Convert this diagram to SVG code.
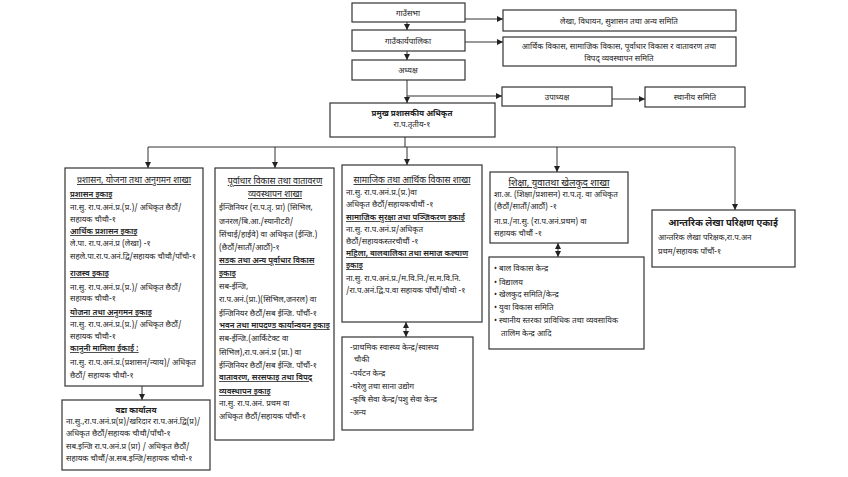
<svg xmlns="http://www.w3.org/2000/svg" width="848" height="477" viewBox="0 0 848 477">
<style>
text{font-family:"Noto Sans Devanagari","Noto Sans","Liberation Sans",sans-serif;font-size:8px;fill:#222}
.c{text-anchor:middle}
.u{text-decoration:underline;font-weight:600}
.h{font-size:8.8px;text-decoration:underline}
.b{font-size:9.5px;font-weight:bold}
rect{fill:#fff;stroke:#333;stroke-width:1.2}
.ln{stroke:#333;stroke-width:1;fill:none}
</style>
<defs>
<marker id="a" viewBox="0 0 10 10" refX="10" refY="5" markerWidth="6" markerHeight="6" orient="auto"><path d="M0,0L10,5L0,10z" fill="#222"/></marker>
<marker id="s" viewBox="0 0 10 10" refX="0" refY="5" markerWidth="6" markerHeight="6" orient="auto"><path d="M10,0L0,5L10,10z" fill="#222"/></marker>
</defs>
<rect x="0" y="0" width="848" height="477" style="fill:#fff;stroke:none"/>
<g id="connectors">
<line class="ln" x1="407" y1="22" x2="407" y2="30" marker-end="url(#a)"/>
<line class="ln" x1="407" y1="51" x2="407" y2="60" marker-end="url(#a)"/>
<line class="ln" x1="465" y1="19" x2="503" y2="19" marker-end="url(#a)"/>
<line class="ln" x1="465" y1="42" x2="503" y2="42" marker-end="url(#a)"/>
<line class="ln" x1="407" y1="80" x2="407" y2="103" marker-end="url(#a)"/>
<line class="ln" x1="407" y1="96" x2="502" y2="96" marker-end="url(#a)"/>
<line class="ln" x1="612" y1="99" x2="645" y2="99" marker-end="url(#a)"/>
<line class="ln" x1="405" y1="137" x2="405" y2="147"/>
<line class="ln" x1="148" y1="147" x2="735" y2="147"/>
<line class="ln" x1="148" y1="147" x2="148" y2="168" marker-end="url(#a)"/>
<line class="ln" x1="275" y1="147" x2="275" y2="168" marker-end="url(#a)"/>
<line class="ln" x1="407" y1="147" x2="407" y2="165" marker-end="url(#a)"/>
<line class="ln" x1="557" y1="147" x2="557" y2="172" marker-end="url(#a)"/>
<line class="ln" x1="735" y1="147" x2="735" y2="210" marker-end="url(#a)"/>
<line class="ln" x1="142" y1="386" x2="142" y2="400" marker-end="url(#a)"/>
<line class="ln" x1="406" y1="322" x2="406" y2="337" marker-start="url(#s)" marker-end="url(#a)"/>
<line class="ln" x1="558" y1="243" x2="558" y2="257" marker-start="url(#s)" marker-end="url(#a)"/>
</g>
<g id="gaunsabha"><rect x="352" y="3" width="113" height="19"/><text class="c" x="408" y="16">गाउँसभा</text></g>
<g id="karyapalika"><rect x="352" y="30" width="113" height="21"/><text class="c" x="408" y="44">गाउँकार्यपालिका</text></g>
<g id="adhyaksha"><rect x="352" y="60" width="113" height="20"/><text class="c" x="408" y="73">अध्यक्ष</text></g>
<g id="samiti1"><rect x="503" y="10" width="233" height="21"/><text class="c" x="619" y="24">लेखा, विधायन, सुशासन तथा अन्य समिति</text></g>
<g id="samiti2"><rect x="503" y="37" width="233" height="29"/><text class="c" x="619" y="49">आर्थिक विकास, सामाजिक विकास, पूर्वाधार विकास र वातावरण तथा</text><text class="c" x="619" y="61">विपद् व्यवस्थापन समिति</text></g>
<g id="upadhyaksha"><rect x="502" y="87" width="110" height="19"/><text class="c" x="557" y="100">उपाध्यक्ष</text></g>
<g id="sthaniya"><rect x="645" y="87" width="100" height="20"/><text class="c" x="695" y="100">स्थानीय समिति</text></g>
<g id="cao"><rect x="330" y="103" width="165" height="34"/><text class="c" x="412" y="116" style="font-weight:bold">प्रमुख प्रशासकीय अधिकृत</text><text class="c" x="412" y="127">रा.प.तृतीय-१</text></g>
<g id="prashasan"><rect x="65" y="168" width="138" height="218"/>
<text class="c h" x="134" y="183">प्रशासन, योजना तथा अनुगमन शाखा</text>
<text class="u" x="70" y="197">प्रशासन इकाइ</text>
<text x="70" y="210">ना.सु. रा.प.अनं.प्र.(प्र.)/ अधिकृत छैठौं/</text>
<text x="70" y="222">सहायक चौथौ-१</text>
<text class="u" x="70" y="234">आर्थिक प्रशासन इकाइ</text>
<text x="70" y="246">ले.पा. रा.प.अनं.प्र (लेखा) -१</text>
<text x="70" y="259">सहले.पा.रा.प.अनं.द्वि/सहायक चौथौ/पाँचौ-१</text>
<text class="u" x="70" y="276">राजस्व इकाइ</text>
<text x="70" y="290">ना.सु. रा.प.अनं.प्र.(प्र.)/ अधिकृत छैठौं/</text>
<text x="70" y="301">सहायक चौथौ-१</text>
<text class="u" x="70" y="315">योजना तथा अनुगमन इकाइ</text>
<text x="70" y="327">ना.सु. रा.प.अनं.प्र.(प्र.)/ अधिकृत छैठौं/</text>
<text x="70" y="339">सहायक चौथौ-१</text>
<text class="u" x="70" y="351">कानुनी मामिला ईकाई :</text>
<text x="70" y="365">ना.सु. रा.प.अनं.प्र.(प्रशासन/न्याय)/ अधिकृत</text>
<text x="70" y="378">छैठौं/ सहायक चौथौ-१</text>
</g>
<g id="wada"><rect x="62" y="400" width="148" height="70"/>
<text class="c" x="136" y="413" style="font-weight:bold">वडा कार्यालय</text>
<text x="66" y="424">ना.सु.,रा.प.अनं.प्र(प्र)/खरिदार रा.प.अनं.द्वि(प्र)/</text>
<text x="66" y="436">अधिकृत छैठौं/सहायक चौथौ/पाँचौ-१</text>
<text x="66" y="449">सब.इन्जि रा.प.अनं.प्र (प्रा) / अधिकृत छैठौं/</text>
<text x="66" y="461">सहायक चौथौं/अ.सब.इन्जि/सहायक चौथो-१</text>
</g>
<g id="purwadhar"><rect x="215" y="168" width="119" height="272"/>
<text class="c h" x="275" y="184">पूर्वाधार विकास तथा वातावरण</text>
<text class="c h" x="275" y="197">व्यवस्थापन शाखा</text>
<text x="219" y="210">ईन्जिनियर (रा.प.तृ. प्रा) (सिभिल,</text>
<text x="219" y="224">जनरल/बि.आ./स्यानीटरी/</text>
<text x="219" y="237">सिंचाई/हाईवे) वा अधिकृत (ईन्जि.)</text>
<text x="219" y="250">(छैठौं/सातौं/आठौं)-१</text>
<text class="u" x="219" y="263">सडक तथा अन्य पूर्वाधार विकास</text>
<text class="u" x="219" y="276">इकाइ</text>
<text x="219" y="289">सब-ईन्जि,</text>
<text x="219" y="302">रा.प.अनं.(प्रा.)(सिभिल,जनरल) वा</text>
<text x="219" y="316">ईन्जिनियर छैठौं/सब ईन्जि. पाँचौं-१</text>
<text class="u" x="219" y="328">भवन तथा मापदण्ड कार्यान्वयन इकाइ</text>
<text x="219" y="341">सब-ईन्जि.(आर्किटेक्ट वा</text>
<text x="219" y="355">सिभिल),रा.प.अनं.प्र (प्रा.) वा</text>
<text x="219" y="368">ईन्जिनियर छैठौं/सब ईन्जि. पाँचौं-१</text>
<text class="u" x="219" y="380">वातावरण, सरसफाइ तथा विपद्</text>
<text class="u" x="219" y="394">व्यवस्थापन इकाइ</text>
<text x="219" y="406">ना.सु. रा.प.अनं. प्रथम वा</text>
<text x="219" y="419">अधिकृत छैठौं/सहायक पाँचौं-१</text>
</g>
<g id="samajik"><rect x="342" y="165" width="140" height="157"/>
<text class="c h" x="412" y="183">सामाजिक तथा आर्थिक विकास शाखा</text>
<text x="346" y="195">ना.सु. रा.प.अनं.प्र.(प्र.)वा</text>
<text x="346" y="207">अधिकृत छैठौं/सहायकचौथौं -१</text>
<text class="u" x="346" y="220">सामाजिक सुरक्षा तथा पञ्जिकरण इकाई</text>
<text x="346" y="232">ना.सु. रा.प.अनं.प्र/अधिकृत</text>
<text x="346" y="244">छैठौं/सहायकस्तरचौथौं -१</text>
<text class="u" x="346" y="256">महिला, बालबालिका तथा समाज कल्याण</text>
<text class="u" x="346" y="268">इकाइ</text>
<text x="346" y="281">ना.सु. रा.प.अनं.प्र./म.वि.नि./स.म.वि.नि.</text>
<text x="346" y="293">/रा.प.अनं.द्वि.प.वा सहायक पाँचौं/चौथो -१</text>
</g>
<g id="samajik-list"><rect x="342" y="337" width="131" height="93"/>
<text x="350" y="350">-प्राथमिक स्वास्थ्य केन्द्र/स्वास्थ्य</text>
<text x="354" y="362">चौकी</text>
<text x="350" y="376">-पर्यटन केन्द्र</text>
<text x="350" y="389">-घरेलु तथा साना उद्योग</text>
<text x="350" y="402">-कृषि सेवा केन्द्र/पशु सेवा केन्द्र</text>
<text x="350" y="415">-अन्य</text>
</g>
<g id="shiksha"><rect x="490" y="172" width="138" height="71"/>
<text class="c h" x="559" y="186" style="font-size:9.5px">शिक्षा, युवातथा खेलकुद शाखा</text>
<text x="494" y="197">शा.अ. (शिक्षा/प्रशासन) रा.प.तृ. वा अधिकृत</text>
<text x="494" y="209">(छैठौं/सातौं/आठौं) -१</text>
<text x="494" y="224">ना.प्र./ना.सु. (रा.प.अनं.प्रथम) वा</text>
<text x="494" y="236">सहायक चौथौं -१</text>
</g>
<g id="shiksha-list"><rect x="489" y="257" width="155" height="92"/>
<text x="494" y="271">•  बाल विकास केन्द्र</text>
<text x="494" y="285">•  विद्यालय</text>
<text x="494" y="297">•  खेलकुद समिति/केन्द्र</text>
<text x="494" y="310">•  युवा विकास समिति</text>
<text x="494" y="323">•  स्थानीय स्तरका प्राविधिक तथा व्यवसायिक</text>
<text x="501" y="336">तालिम केन्द्र आदि</text>
</g>
<g id="audit"><rect x="652" y="210" width="143" height="57"/>
<text class="c b" x="723" y="226">आन्तरिक लेखा परिक्षण एकाई</text>
<text x="658" y="240">आन्तरिक लेखा परिक्षक,रा.प.अन</text>
<text x="658" y="254">प्रथम/सहायक पाँचौं-१</text>
</g>
</svg>
